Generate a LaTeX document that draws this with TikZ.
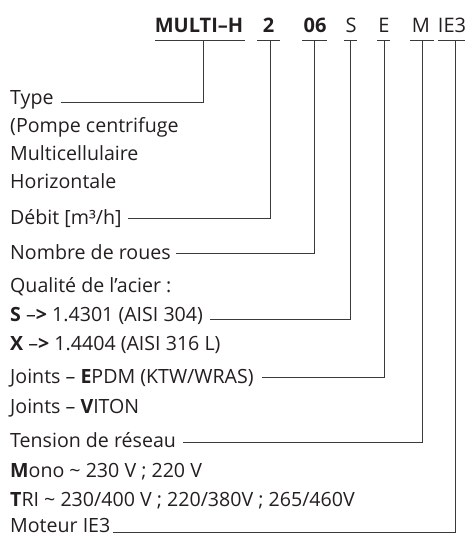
\documentclass[tikz,border=0pt]{standalone}
\usepackage{fontspec}
\setmainfont{Open Sans}
\usetikzlibrary{calc}
\definecolor{txt}{HTML}{231F20}
\definecolor{ln}{HTML}{3A3A3A}
\begin{document}
\begin{tikzpicture}[x=1pt,y=-1pt,
  lbl/.style={anchor=base west, inner sep=0pt, font=\fontsize{19.6}{23}\selectfont, text=txt},
  code/.style={anchor=base, inner sep=0pt, font=\fontsize{20}{24}\selectfont, text=txt},
  wire/.style={draw=ln, line width=0.8pt},
]
\useasboundingbox (0,0) rectangle (476,536);

% code tokens
\node[code] (cMH) at (199,32) {\bfseries MULTI–H};
\node[code] (c2) at (268.5,32) {\bfseries 2};
\node[code] (c06) at (315,32) {\bfseries 06};
\node[code] (cS) at (351,32) {S};
\node[code] (cE) at (384,32) {E};
\node[code] (cM) at (421,32) {M};
\node[code] (cIE) at (452,32) {IE3};

\foreach \a/\b/\v/\n in {155/245/203/1, 257/280/270/2, 302/327/314/3, 344/357/350/4, 377/390/384/5, 410/434/422/6, 438/465/455/7} {
  \draw[wire] (\a,40) -- (\b,40);
  \coordinate (u\n) at (\v,40);
}

% labels
\node[lbl] (lType)  at (10,104) {Type};
\node[lbl] (lPompe) at (10,132) {(Pompe centrifuge};
\node[lbl] (lMulti) at (10,160) {Multicellulaire};
\node[lbl] (lHoriz) at (10,188) {Horizontale};
\node[lbl] (lDebit) at (10,224) {Débit [m³/h]};
\node[lbl] (lRoues) at (10,259) {Nombre de roues};
\node[lbl] (lQual)  at (10,292) {Qualité de l’acier :};
\node[lbl] (lS)     at (10,321) {\textbf{S} –\textbf{>} 1.4301 (AISI 304)};
\node[lbl] (lX)     at (10,350) {\textbf{X} –\textbf{>} 1.4404 (AISI 316 L)};
\node[lbl] (lJE)    at (10,383) {Joints – \textbf{E}PDM (KTW/WRAS)};
\node[lbl] (lJV)    at (10,413) {Joints – \textbf{V}ITON};
\node[lbl] (lTens)  at (10,447) {Tension de réseau};
\node[lbl] (lMono)  at (10,477) {\textbf{M}ono \textasciitilde{} 230 V ; 220 V};
\node[lbl] (lTri)   at (10,506) {\textbf{T}RI \textasciitilde{} 230/400 V ; 220/380V ; 265/460V};
\node[lbl] (lMot)   at (10,532.5) {Moteur IE3};

% connectors
\draw[wire] ($(lType.base east)+(7,-2)$) -| (u1);
\draw[wire] ($(lDebit.base east)+(6,-6)$) -| (u2);
\draw[wire] ($(lRoues.base east)+(5,-6)$) -| (u3);
\draw[wire] ($(lS.base east)+(7,-2)$) -| (u4);
\draw[wire] ($(lJE.base east)+(8,-6)$) -| (u5);
\draw[wire] ($(lTens.base east)+(7,-5)$) -| (u6);
\draw[wire] ($(lMot.base east)+(2,0)$) -| (u7);
\end{tikzpicture}
\end{document}
